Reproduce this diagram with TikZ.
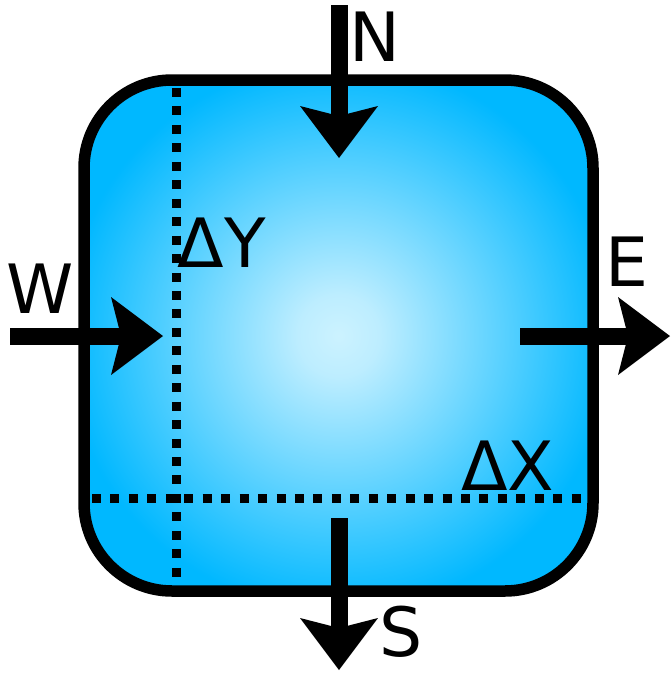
\documentclass[tikz,border=0pt]{standalone}
\usepackage{fontspec}
\setmainfont{DejaVu Sans}
\usetikzlibrary{arrows.meta}
\pgfdeclareradialshading{cellglow}{\pgfpoint{0bp}{0bp}}{rgb(0bp)=(0.80,0.95,1); rgb(4bp)=(0.74,0.93,1); rgb(27bp)=(0,0.72,1); rgb(50bp)=(0,0.72,1)}
\begin{document}
\begin{tikzpicture}[x=1pt,y=-1pt,
  flux/.style={line width=17pt, -{Stealth[length=52pt,width=78pt,inset=10pt,line width=0pt]}},
  gridline/.style={line width=9pt, dash pattern=on 9pt off 9.45pt},
  lbl/.style={inner sep=0pt, font=\fontsize{68}{70}\selectfont}]
\useasboundingbox (0,0) rectangle (670,675);
% cell
\shade[shading=cellglow, rounded corners=88pt] (84,80) rectangle (593,591);
\draw[line width=11.5pt, rounded corners=88pt] (84,80) rectangle (593,591);
% grid lines
\coordinate (vTop) at (176.5,88);
\coordinate (vBot) at (176.5,580);
\coordinate (hL) at (92,498);
\coordinate (hR) at (583,498);
\draw[gridline] (vTop) -- (vBot);
\draw[gridline] (hL) -- (hR);
% fluxes
\coordinate (nA) at (339,5);
\coordinate (nB) at (339,158);
\coordinate (wA) at (10,336);
\coordinate (wB) at (163,336);
\coordinate (eA) at (520,336);
\coordinate (eB) at (670,336);
\coordinate (sA) at (339,518);
\coordinate (sB) at (339,670);
\draw[flux] (nA) -- (nB);
\draw[flux] (wA) -- (wB);
\draw[flux] (eA) -- (eB);
\draw[flux] (sA) -- (sB);
% labels
\node[lbl] (N) at (375,37) {N};
\node[lbl] (W) at (40,289) {W};
\node[lbl] (E) at (627,262) {E};
\node[lbl] (S) at (401,632) {S};
\node[lbl] (dY) at (222,243) {ΔY};
\node[lbl] (dX) at (508,466) {ΔX};
\end{tikzpicture}
\end{document}
